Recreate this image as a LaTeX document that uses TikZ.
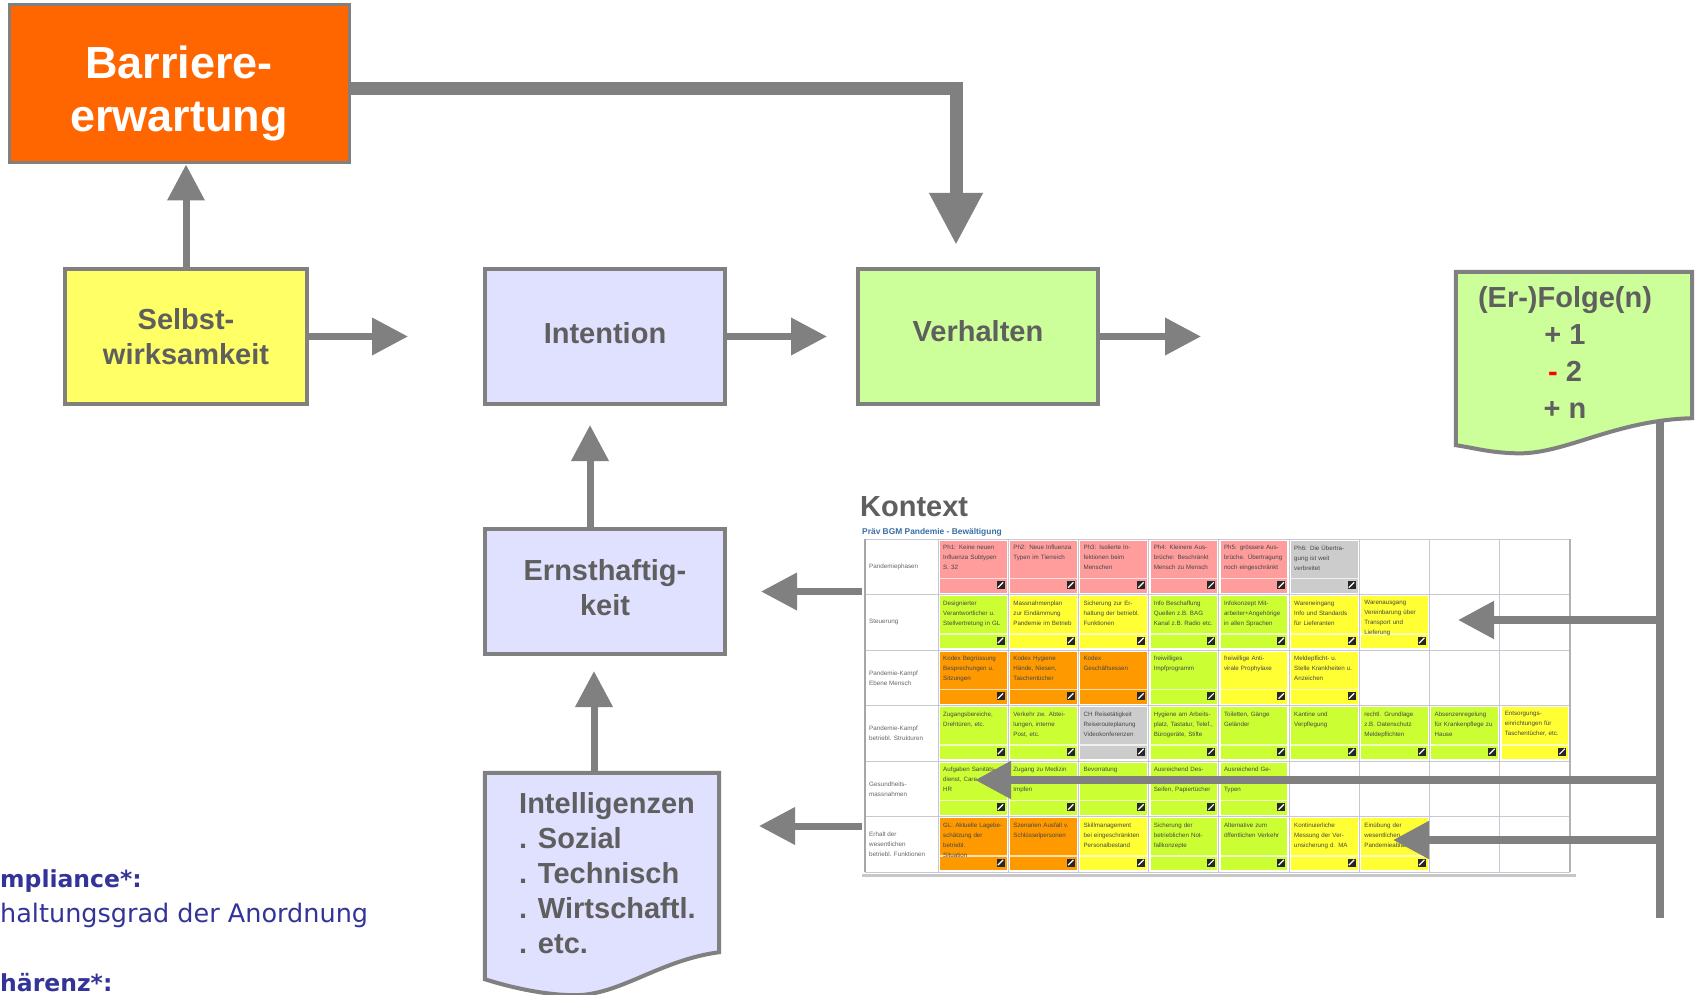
\documentclass[tikz,border=0pt]{standalone}
\usepackage{fontspec}
\setmainfont{Liberation Sans}
\newfontfamily\notefont{DejaVu Sans}
\usetikzlibrary{arrows.meta,calc,positioning}
\definecolor{boxgray}{HTML}{808080}
\definecolor{txtgray}{HTML}{5F5F5F}
\definecolor{lila}{HTML}{E0E0FF}
\definecolor{hellgruen}{HTML}{CCFF99}
\definecolor{gelb}{HTML}{FFFF66}
\definecolor{barrorange}{HTML}{FF6600}
\definecolor{notblau}{HTML}{333399}
\definecolor{kpink}{HTML}{FF9C9C}
\definecolor{klime}{HTML}{CCFF33}
\definecolor{kgelb}{HTML}{FFFF33}
\definecolor{korange}{HTML}{FF9900}
\definecolor{kgrau}{HTML}{CCCCCC}
\definecolor{gitter}{HTML}{C8C8D4}
\definecolor{tabblau}{HTML}{3A6EA5}
\begin{document}
\begin{tikzpicture}[x=1pt, y=-1pt,
		kasten/.style={draw=boxgray, line width=4pt, text=txtgray, align=center, inner sep=0pt,
				font=\fontsize{29}{35}\selectfont\bfseries},
		pfeil/.style={draw=boxgray, line width=7pt, -{Triangle[length=36pt,width=36pt]}},
		zelltext/.style={anchor=north west, inner sep=0pt, text width=66pt, align=left,
				text=black!72, font=\fontsize{6.2}{10}\selectfont},
	]
	\path[use as bounding box, fill=white] (0,0) rectangle (1700,995);

	% Kaesten oben
	\node[kasten, fill=barrorange, line width=3pt, minimum width=340pt, minimum height=158pt] (barr) at (179,84) {};
	\node[text=white, align=center, inner sep=0pt, font=\fontsize{45}{53}\selectfont\bfseries]
		(barrtext) at ($(barr.center)+(0,9)$) {Barriere-\\erwartung};
	\node[kasten, fill=gelb, minimum width=242pt, minimum height=135pt] (sw) at (186,336.5) {Selbst-\\wirksamkeit};
	\node[kasten, fill=lila, minimum width=240pt, minimum height=135pt, text depth=8pt] (int) at (605,336.5) {Intention};
	\node[kasten, fill=hellgruen, minimum width=240pt, minimum height=135pt, text depth=12pt] (verh) at (978,336.5) {Verhalten};
	\node[kasten, fill=lila, minimum width=240pt, minimum height=125pt, text depth=9pt] (ernst) at (605,591.5) {Ernsthaftig-\\keit};
	\coordinate (verhaus) at (1201,336.5);
	\coordinate (intelpfeil) at (759,826);

	% Intelligenzen (Dokument)
	\node[minimum width=234pt, minimum height=197pt, inner sep=0pt] (intel) at (602,871.5) {};
	\draw[boxgray, line width=4pt, fill=lila] (intel.north west) -- (intel.north east)
		-- ($(intel.south east)+(0,-18)$) .. controls +(-60,8) and +(45,0) .. ($(intel.south)+(-27,25)$)
		.. controls +(-30,0) and +(25,8) .. ($(intel.south west)+(0,9)$) -- cycle;
	\node[anchor=west, align=left, inner sep=0pt, text=txtgray, font=\fontsize{29}{35}\selectfont\bfseries]
		(inteltext) at (519,873) {Intelligenzen\\. Sozial\\. Technisch\\. Wirtschaftl.\\. etc.};

	% Pfeile
	\draw[pfeil] (sw.north) -- (sw.north |- barr.south);
	\draw[boxgray, line width=13pt, -{Triangle[length=52pt,width=50pt]}] ($(barr.east)+(0,5)$) -| ($(verh.north)+(-22,-22)$);
	\draw[pfeil, shorten >=75pt] (sw.east) -- (int.west);
	\draw[pfeil, shorten >=29pt] (int.east) -- (verh.west);
	\draw[pfeil] (verh.east) -- (verhaus);
	\draw[pfeil, shorten >=19pt] ([xshift=-15pt]ernst.north) -- ([xshift=-15pt]int.south);
	\draw[pfeil, shorten >=15pt] ([xshift=-8pt]intel.north) -- ([xshift=-8pt]intel.north |- ernst.south);

	% Kontext-Tabelle
	\node[anchor=west, inner sep=0pt, text=txtgray, font=\fontsize{29}{35}\selectfont\bfseries] (kontext) at (860,507) {Kontext};
	\node[anchor=base west, inner sep=0pt, text=tabblau, font=\fontsize{8.4}{10}\selectfont\bfseries] (tabtitel) at (862,534) {Präv BGM Pandemie - Bewältigung};
	\node[minimum width=710pt, minimum height=335pt, inner sep=0pt] (tab) at (1217,706.5) {};
	\foreach \i in {0,...,9}
	\draw[gitter, line width=1pt] ({938+\i*70.2},539) -- ({938+\i*70.2},872);
	\foreach \j in {0,...,6}
	\draw[gitter, line width=1pt] (865,{539+\j*55.5}) -- (1570,{539+\j*55.5});
	\draw[black!35, line width=2pt] (865,539) -- (865,872);
	\draw[black!30, line width=1.5pt] (1570,539) -- (1570,872);
	\draw[black!22, line width=3pt] (862,875) -- (1576,875);
	\foreach \r/\zname in {1/Pandemiephasen, 2/Steuerung, 3/{Pandemie-Kampf\\Ebene Mensch},
			4/{Pandemie-Kampf\\betriebl. Strukturen}, 5/{Gesundheits-\\massnahmen},
			6/{Erhalt der\\wesentlichen\\betriebl. Funktionen}}
	\node[anchor=west, inner sep=0pt, align=left, text=black!60, font=\fontsize{6.3}{10}\selectfont]
		(zeile-\r) at (869,{539+(\r-0.5)*55.5}) {\zname};
	\foreach \r/\c/\farbe/\inhalt in {
			1/1/kpink/{Ph1: Keine neuen\\Influenza Subtypen\\S. 32},
			1/2/kpink/{Ph2: Neue Influenza\\Typen im Tierreich},
			1/3/kpink/{Ph3: Isolierte In-\\fektionen beim\\Menschen},
			1/4/kpink/{Ph4: Kleinere Aus-\\brüche: Beschränkt\\Mensch zu Mensch},
			1/5/kpink/{Ph5: grössere Aus-\\brüche. Übertragung\\noch eingeschränkt},
			1/6/kgrau/{Ph6: Die Übertra-\\gung ist weit\\verbreitet},
			2/1/klime/{Designierter\\Verantwortlicher u.\\Stellvertretung in GL},
			2/2/kgelb/{Massnahmenplan\\zur Eindämmung\\Pandemie im Betrieb},
			2/3/kgelb/{Sicherung zur Er-\\haltung der betriebl.\\Funktionen},
			2/4/klime/{Info Beschaffung\\Quellen z.B. BAG\\Kanal z.B. Radio etc.},
			2/5/klime/{Infokonzept Mit-\\arbeiter+Angehörige\\in allen Sprachen},
			2/6/kgelb/{Wareneingang\\Info und Standards\\für Lieferanten},
			2/7/kgelb/{Warenausgang\\Vereinbarung über\\Transport und\\Lieferung},
			3/1/korange/{Kodex Begrüssung\\Besprechungen u.\\Sitzungen},
			3/2/korange/{Kodex Hygiene\\Hände, Niesen,\\Taschentücher},
			3/3/korange/{Kodex\\Geschäftsessen},
			3/4/klime/{freiwilliges\\Impfprogramm},
			3/5/kgelb/{freiwillige Anti-\\virale Prophylaxe},
			3/6/kgelb/{Meldepflicht- u.\\Stelle Krankheiten u.\\Anzeichen},
			4/1/klime/{Zugangsbereiche,\\Drehtüren, etc.},
			4/2/klime/{Verkehr zw. Abtei-\\lungen, interne\\Post, etc.},
			4/3/kgrau/{CH Reisetätigkeit\\Reiserouteplanung\\Videokonferenzen},
			4/4/klime/{Hygiene am Arbeits-\\platz, Tastatur, Telef.,\\Bürogeräte, Stifte},
			4/5/klime/{Toiletten, Gänge\\Geländer},
			4/6/klime/{Kantine und\\Verpflegung},
			4/7/klime/{rechtl. Grundlage\\z.B. Datenschutz\\Meldepflichten},
			4/8/klime/{Absenzenregelung\\für Krankenpflege zu\\Hause},
			4/9/kgelb/{Entsorgungs-\\einrichtungen für\\Taschentücher, etc.},
			5/1/klime/{Aufgaben Sanitäts-\\dienst, Care\\HR},
			5/2/klime/{Zugang zu Medizin\\Diagnose und\\Impfen},
			5/3/klime/{Bevorratung\\von Medikamenten},
			5/4/klime/{Ausreichend Des-\\infektionsmittel,\\Seifen, Papiertücher},
			5/5/klime/{Ausreichend Ge-\\sichtsmasken aller\\Typen},
			6/1/korange/{GL: Aktuelle Lagebe-\\schätzung der\\betriebl.\\Situation},
			6/2/korange/{Szenarien Ausfall v.\\Schlüsselpersonen},
			6/3/kgelb/{Skillmanagement\\bei eingeschränkten\\Personalbestand},
			6/4/klime/{Sicherung der\\betrieblichen Not-\\fallkonzepte},
			6/5/klime/{Alternative zum\\öffentlichen Verkehr},
			6/6/kgelb/{Kontinuierliche\\Messung der Ver-\\unsicherung d. MA},
			6/7/kgelb/{Einübung der\\wesentlichen\\Pandemieabläufe}}{
			\coordinate (z) at ({938+(\c-1)*70.2},{539+(\r-1)*55.5});
			\fill[\farbe] ($(z)+(2,1.5)$) rectangle ($(z)+(68.5,53.5)$);
			\draw[white, line width=1.2pt, opacity=.7] ($(z)+(2,39.5)$) -- ($(z)+(68.5,39.5)$);
			\fill[black!85] ($(z)+(58.5,42)$) rectangle +(8,8);
			\draw[white, line width=1.2pt] ($(z)+(59.8,48.7)$) -- +(5.4,-5.4);
			\node[zelltext] (zelle-\r-\c) at ($(z)+(5,6)$) {\inhalt};
		}
	\draw[pfeil, shorten >=34pt] (tab.west |- ernst.east) -- (ernst.east);
	\draw[pfeil] (tab.west |- intelpfeil) -- (intelpfeil);

	% (Er-)Folge(n) mit Rueckfuehrung
	\coordinate (fdown) at (1660,918);
	\coordinate (b1) at (1458,620);
	\coordinate (b2) at (975,780);
	\coordinate (b3) at (1393,840);
	\node[minimum width=236pt, minimum height=162pt, inner sep=0pt] (folge) at (1574,353) {};
	\draw[boxgray, line width=8pt] (fdown |- folge.center) -- (fdown);
	\draw[boxgray, line width=4pt, fill=hellgruen] (folge.north west) -- (folge.north east)
		-- ($(folge.south east)+(0,-16)$) .. controls +(-80,2) and +(50,3) .. ($(folge.south)+(-61,19)$)
		.. controls +(-25,-1) and +(20,3) .. ($(folge.south west)+(0,11)$) -- cycle;
	\node[text=txtgray, align=center, inner sep=0pt, font=\fontsize{29}{37}\selectfont\bfseries]
		(folgetext) at ($(folge.center)+(-9,-1)$) {(Er-)Folge(n)\\+ 1\\\textcolor{red}{-} 2\\+ n};
	\foreach \b in {b1,b2,b3}
	\draw[pfeil, line width=8pt] (fdown |- \b) -- (\b);

	% Begriffe
	\node[anchor=base west, inner sep=0pt, text=notblau, font=\notefont\fontsize{23.5}{30}\selectfont\bfseries] (compl) at (0,887) {mpliance*:};
	\node[anchor=base west, inner sep=0pt, text=notblau, font=\notefont\fontsize{25.5}{30}\selectfont] (compltext) at (0,922) {haltungsgrad der Anordnung};
	\node[anchor=base west, inner sep=0pt, text=notblau, font=\notefont\fontsize{23.5}{30}\selectfont\bfseries] (kohaer) at (0,991) {härenz*:};
\end{tikzpicture}
\end{document}
